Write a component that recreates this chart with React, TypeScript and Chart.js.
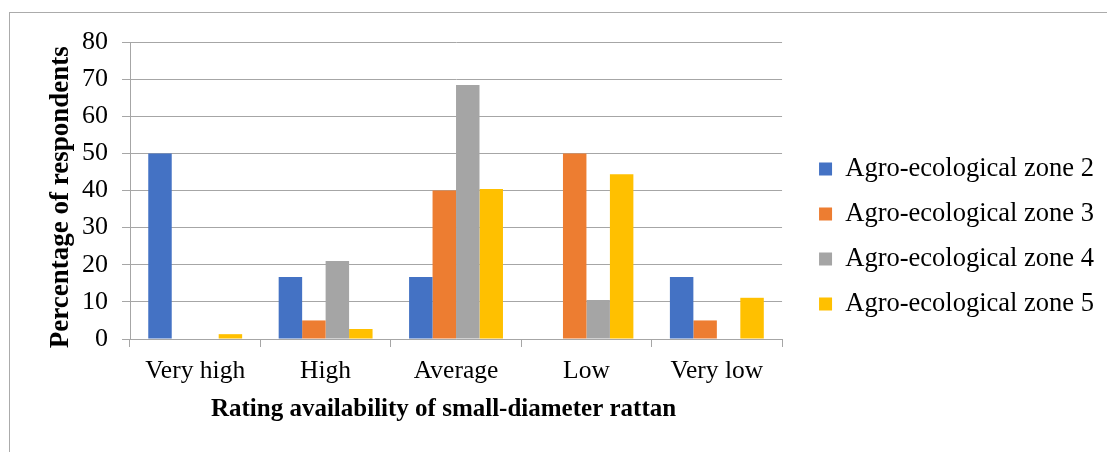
import React, { useEffect, useRef } from "react";
import { Chart, registerables } from "chart.js";

Chart.register(...registerables);

const categories = ["Very high", "High", "Average", "Low", "Very low"];
const zone2 = [50, 16.7, 16.7, 0, 16.7];
const zone3 = [0, 5, 40, 50, 5];
const zone4 = [0, 21, 68.4, 10.5, 0];
const zone5 = [1.3, 2.7, 40.4, 44.4, 11.1];
const seriesNames = [
  "Agro-ecological zone 2",
  "Agro-ecological zone 3",
  "Agro-ecological zone 4",
  "Agro-ecological zone 5",
];
const seriesColors = ["#4472C4", "#ED7D31", "#A5A5A5", "#FFC000"];
const xTitle = "Rating availability of small-diameter rattan";
const yTitle = "Percentage of respondents";

const FONT = "'Liberation Serif', 'Times New Roman', serif";

export default function App() {
  const ref = useRef<HTMLCanvasElement | null>(null);

  useEffect(() => {
    if (!ref.current) return;
    const values = [zone2, zone3, zone4, zone5];
    const chart = new Chart(ref.current, {
      type: "bar",
      data: {
        labels: categories,
        datasets: values.map((v, i) => ({
          label: seriesNames[i],
          data: v,
          backgroundColor: seriesColors[i],
          borderWidth: 0,
          categoryPercentage: 0.72,
          barPercentage: 1,
        })),
      },
      options: {
        animation: false,
        responsive: false,
        layout: { padding: { left: 45, top: 42, bottom: 21, right: 3 } },
        plugins: {
          tooltip: { enabled: false },
          legend: {
            position: "right",
            maxWidth: 320,
            labels: {
              boxWidth: 13,
              boxHeight: 13,
              padding: 18.5,
              color: "#000",
              font: { family: FONT, size: 26.5 },
            },
          },
        },
        scales: {
          x: {
            grid: {
              display: true,
              drawOnChartArea: false,
              drawTicks: true,
              tickLength: 8,
              color: "#a6a6a6",
              offset: true,
            },
            border: { display: true, color: "#a6a6a6" },
            ticks: {
              color: "#000",
              padding: 9,
              font: { family: FONT, size: 25.5 },
              maxRotation: 0,
            },
            title: {
              display: true,
              text: xTitle + "    ",
              color: "#000",
              padding: { top: 0, bottom: 6 },
              font: { family: FONT, size: 25, weight: "bold" },
            },
            afterFit: (s: any) => {
              s.height = 92;
            },
          },
          y: {
            min: 0,
            max: 80,
            ticks: {
              stepSize: 10,
              color: "#000",
              padding: 14,
              font: { family: FONT, size: 26 },
            },
            grid: { color: "#a6a6a6", tickLength: 8 },
            border: { display: true, color: "#a6a6a6" },
            title: {
              display: true,
              text: yTitle + "  ",
              color: "#000",
              padding: { top: 0, bottom: 0 },
              font: { family: FONT, size: 27, weight: "bold" },
            },
            afterFit: (s: any) => {
              s.width = 85;
            },
          },
          gap: {
            type: "linear",
            position: "right",
            display: true,
            grid: { display: false },
            border: { display: false },
            ticks: { display: false },
            afterFit: (s: any) => {
              s.width = 18.5;
            },
          },
        },
      } as any,
    });
    return () => chart.destroy();
  }, []);

  return (
    <div
      style={{
        position: "fixed",
        left: 0,
        top: 0,
        width: 1107,
        height: 452,
        background: "#fff",
        overflow: "hidden",
      }}
    >
      <div
        style={{
          position: "absolute",
          left: 9,
          top: 12,
          width: 1107,
          height: 452,
          borderLeft: "1px solid #ababab",
          borderTop: "1px solid #ababab",
        }}
      />
      <canvas
        ref={ref}
        width={1107}
        height={452}
        style={{ position: "absolute", left: 0, top: 0 }}
      />
    </div>
  );
}
